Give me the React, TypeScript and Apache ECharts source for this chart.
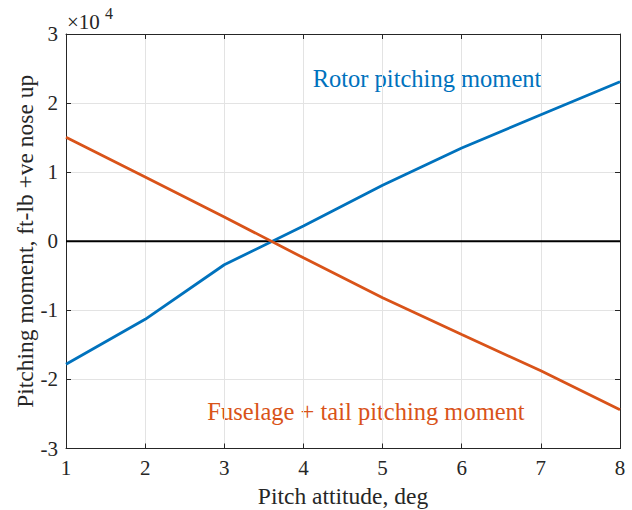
import React, { useEffect, useRef } from "react";
import * as echarts from "echarts";

// Pitch attitude (deg)
const pitchAttitude = [1, 2, 3, 4, 5, 6, 7, 8];
// Rotor pitching moment (ft-lb, +ve nose up)
const rotorMoment = [-17800, -11300, -3400, 2200, 8100, 13500, 18300, 23100];
// Fuselage + tail pitching moment (ft-lb, +ve nose up)
const fuselageTailMoment = [15060, 9300, 3520, -2400, -8170, -13500, -18760, -24400];

const yTicks = [-30000, -20000, -10000, 0, 10000, 20000, 30000];
const yScale = 10000;

const BLUE = "#0072BD";
const ORANGE = "#D95319";
const AXIS = "#262626";
const FONT = "Liberation Serif";

export default function App() {
  const ref = useRef<HTMLDivElement>(null);

  useEffect(() => {
    if (!ref.current) return;
    const chart = echarts.init(ref.current, undefined, { renderer: "svg" });

    const baseX = {
      type: "value" as const,
      min: pitchAttitude[0],
      max: pitchAttitude[pitchAttitude.length - 1],
      interval: 1,
    };
    const baseY = {
      type: "value" as const,
      min: yTicks[0],
      max: yTicks[yTicks.length - 1],
      interval: yScale,
    };
    const line = { show: true, onZero: false, lineStyle: { color: AXIS, width: 1 } };
    const tick = { show: true, inside: true, length: 5, lineStyle: { color: AXIS, width: 1 } };

    chart.setOption({
      animation: false,
      backgroundColor: "#ffffff",
      textStyle: { fontFamily: FONT },
      grid: {
        left: 66,
        right: 12,
        top: 34,
        bottom: 61.5,
        containLabel: false,
        outerBoundsMode: "none",
      },
      xAxis: [
        {
          ...baseX,
          position: "bottom",
          name: "Pitch attitude, deg",
          nameLocation: "middle",
          nameGap: 35,
          nameMoveOverlap: false,
          nameTextStyle: { fontFamily: FONT, fontSize: 23.5, color: AXIS },
          axisLine: line,
          axisTick: tick,
          axisLabel: { fontFamily: FONT, fontSize: 21, color: AXIS, margin: 9 },
          splitLine: { show: true, lineStyle: { color: "#e3e3e3", width: 1 } },
        },
        {
          ...baseX,
          position: "top",
          axisLine: line,
          axisTick: tick,
          axisLabel: { show: false },
          splitLine: { show: false },
        },
      ],
      yAxis: [
        {
          ...baseY,
          position: "left",
          name: "Pitching moment, ft-lb +ve nose up",
          nameLocation: "middle",
          nameGap: 29,
          nameMoveOverlap: false,
          nameTextStyle: { fontFamily: FONT, fontSize: 23.5, color: AXIS },
          axisLine: line,
          axisTick: tick,
          axisLabel: {
            fontFamily: FONT,
            fontSize: 21,
            color: AXIS,
            margin: 8,
            formatter: (v: number) => String(Math.round(v / yScale)),
          },
          splitLine: { show: true, lineStyle: { color: "#e3e3e3", width: 1 } },
        },
        {
          ...baseY,
          position: "right",
          axisLine: line,
          axisTick: tick,
          axisLabel: { show: false },
          splitLine: { show: false },
        },
      ],
      graphic: [
        {
          type: "text",
          x: 67,
          y: 32,
          style: {
            text: "×10",
            fontFamily: FONT,
            fontSize: 21,
            fill: AXIS,
            verticalAlign: "bottom",
          },
        },
        {
          type: "text",
          x: 105,
          y: 5,
          style: {
            text: "4",
            fontFamily: FONT,
            fontSize: 16,
            fill: AXIS,
            verticalAlign: "top",
          },
        },
        {
          type: "text",
          x: 427,
          y: 78,
          style: {
            text: "Rotor pitching moment",
            fontFamily: FONT,
            fontSize: 24.5,
            fill: BLUE,
            align: "center",
            verticalAlign: "middle",
          },
        },
        {
          type: "text",
          x: 366,
          y: 411,
          style: {
            text: "Fuselage + tail pitching moment",
            fontFamily: FONT,
            fontSize: 24.5,
            fill: ORANGE,
            align: "center",
            verticalAlign: "middle",
          },
        },
      ],
      series: [
        {
          type: "line",
          data: pitchAttitude.map((x) => [x, 0]),
          symbol: "none",
          lineStyle: { color: "#000000", width: 2 },
          silent: true,
          z: 1,
        },
        {
          type: "line",
          name: "Rotor pitching moment",
          data: pitchAttitude.map((x, i) => [x, rotorMoment[i]]),
          symbol: "none",
          lineStyle: { color: BLUE, width: 2.8 },
          z: 2,
        },
        {
          type: "line",
          name: "Fuselage + tail pitching moment",
          data: pitchAttitude.map((x, i) => [x, fuselageTailMoment[i]]),
          symbol: "none",
          lineStyle: { color: ORANGE, width: 2.8 },
          z: 3,
        },
      ],
    });

    return () => chart.dispose();
  }, []);

  return <div ref={ref} style={{ width: 632, height: 510, position: "absolute", left: 0, top: 0 }} />;
}
